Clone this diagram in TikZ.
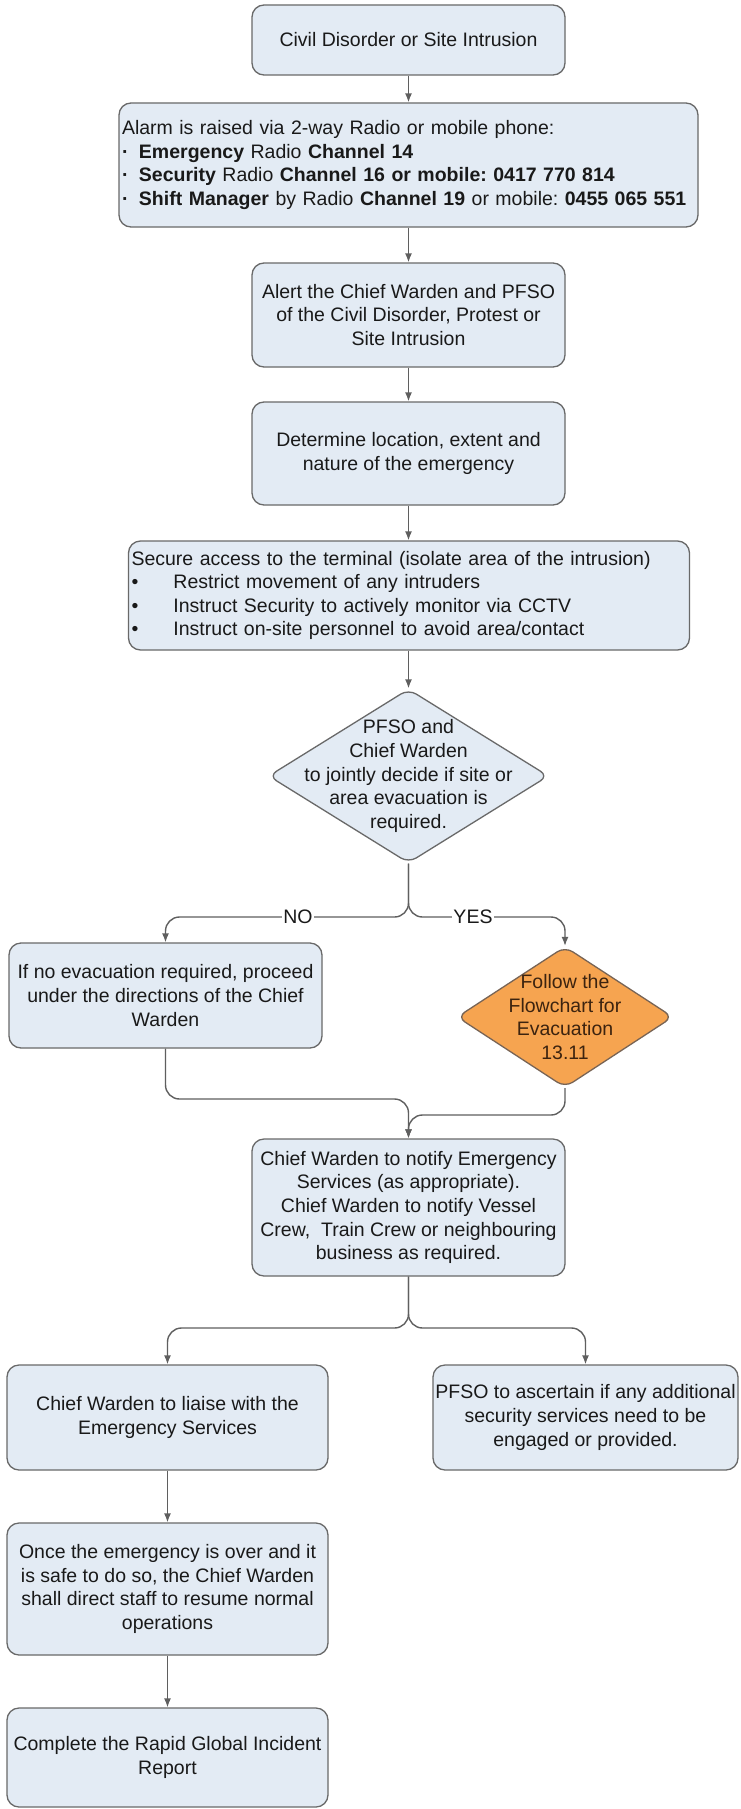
\documentclass[tikz,border=0pt]{standalone}
\usepackage{fontspec}
\setmainfont{Liberation Sans}
\usetikzlibrary{shapes.geometric,arrows.meta}

\definecolor{boxfill}{RGB}{227,235,244}
\definecolor{boxline}{RGB}{105,105,105}
\definecolor{connline}{RGB}{95,95,95}
\definecolor{ink}{RGB}{25,25,25}
\definecolor{orangefill}{RGB}{246,164,80}
\definecolor{orangeline}{RGB}{120,100,85}
\definecolor{orangeink}{RGB}{60,35,15}

\newcommand\chartfont{\fontsize{19.5}{23.6}\selectfont}
\frenchspacing

\tikzset{
  box/.style={draw=boxline, fill=boxfill, rounded corners=12pt, line width=1.3pt,
    inner sep=0pt, align=center, font=\chartfont, text=ink},
  listbox/.style={box, align=left, inner xsep=3pt},
  decision/.style={diamond, draw=boxline, fill=boxfill, rounded corners=9pt,
    line width=1.3pt, inner sep=0pt},
  evacdecision/.style={decision, draw=orangeline, fill=orangefill},
  txt/.style={align=center, font=\chartfont, text=ink, inner sep=0pt},
  conn/.style={draw=connline, line width=1.4pt, rounded corners=14pt,
    -{Latex[length=9pt,width=7pt]}},
  lbl/.style={fill=white, inner xsep=1pt, inner ysep=2pt, font=\chartfont, text=ink},
}

\begin{document}
\begin{tikzpicture}[x=1pt,y=-1pt]
\useasboundingbox[fill=white] (0,0) rectangle (740,1809);

% process steps
\node[box, minimum width=313, minimum height=70] (n1) at (408.5,40)
  {Civil Disorder or Site Intrusion};

\node[listbox, minimum width=579, minimum height=124, text width=573] (n2) at (408.5,165)
  {Alarm is raised via 2-way Radio or mobile phone:\\
   \makebox[17pt][l]{\bfseries ·}\textbf{Emergency} Radio \textbf{Channel 14}\\
   \makebox[17pt][l]{\bfseries ·}\textbf{Security} Radio \textbf{Channel 16 or mobile: 0417 770 814}\\
   \makebox[17pt][l]{\bfseries ·}\textbf{Shift Manager} by Radio \textbf{Channel 19} or mobile: \textbf{0455 065 551}};

\node[box, minimum width=313, minimum height=104] (n3) at (408.5,315)
  {Alert the Chief Warden and PFSO\\of the Civil Disorder, Protest or\\Site Intrusion};

\node[box, minimum width=313, minimum height=103] (n4) at (408.5,453.5)
  {Determine location, extent and\\nature of the emergency};

\node[listbox, minimum width=561, minimum height=109, text width=555] (n5) at (409,595.5)
  {Secure access to the terminal (isolate area of the intrusion)\\
   \makebox[42pt][l]{•}Restrict movement of any intruders\\
   \makebox[42pt][l]{•}Instruct Security to actively monitor via CCTV\\
   \makebox[42pt][l]{•}Instruct on-site personnel to avoid area/contact};

% joint decision
\node[decision, minimum width=280, minimum height=174] (d1) at (408.5,776) {};
\node[txt] (d1t) at (d1.center)
  {PFSO and\\Chief Warden\\to jointly decide if site or\\area evacuation is\\required.};

\node[box, minimum width=313, minimum height=105] (n6) at (165.5,995.5)
  {If no evacuation required, proceed\\under the directions of the Chief\\Warden};

\node[evacdecision, minimum width=216, minimum height=141] (d2) at (565,1017) {};
\node[txt, text=orangeink] (d2t) at (d2.center)
  {Follow the\\Flowchart for\\Evacuation\\13.11};

\node[box, minimum width=313, minimum height=137] (n7) at (408.5,1207.5)
  {Chief Warden to notify Emergency\\Services (as appropriate).\\Chief Warden to notify Vessel\\Crew,\ \ Train Crew or neighbouring\\business as required.};

\node[box, minimum width=321, minimum height=105] (n8) at (167.5,1417.5)
  {Chief Warden to liaise with the\\Emergency Services};

\node[box, minimum width=305, minimum height=105] (n9) at (585.5,1417.5)
  {PFSO to ascertain if any additional\\security services need to be\\engaged or provided.};

\node[box, minimum width=321, minimum height=132] (n10) at (167.5,1589)
  {Once the emergency is over and it\\is safe to do so, the Chief Warden\\shall direct staff to resume normal\\operations};

\node[box, minimum width=321, minimum height=99] (n11) at (167.5,1757.5)
  {Complete the Rapid Global Incident\\Report};

% branch and join points
\coordinate (split1) at (408.5,917);
\coordinate (joinL) at (408.5,1099);
\coordinate (joinR) at (408.5,1115);
\coordinate (split2) at (408.5,1328);

% connectors
\draw[conn] (n1.south) -- (n2.north);
\draw[conn] (n2.south) -- (n3.north);
\draw[conn] (n3.south) -- (n4.north);
\draw[conn] (n4.south) -- (n4.south |- n5.north);
\draw[conn] (n4.south |- n5.south) -- (d1.north);

\draw[conn] (d1.south) -- (split1) -| (n6.north);
\draw[conn] (d1.south) -- (split1) -| (d2.north);
\node[lbl] (lno) at (298,917) {NO};
\node[lbl] (lyes) at (473,917) {YES};

\draw[conn] (n6.south) |- (joinL) -- (n7.north);
\draw[conn] (d2.south) |- (joinR) -- (n7.north);

\draw[conn] (n7.south) -- (split2) -| (n8.north);
\draw[conn] (n7.south) -- (split2) -| (n9.north);

\draw[conn] (n8.south) -- (n10.north);
\draw[conn] (n10.south) -- (n11.north);
\end{tikzpicture}
\end{document}
